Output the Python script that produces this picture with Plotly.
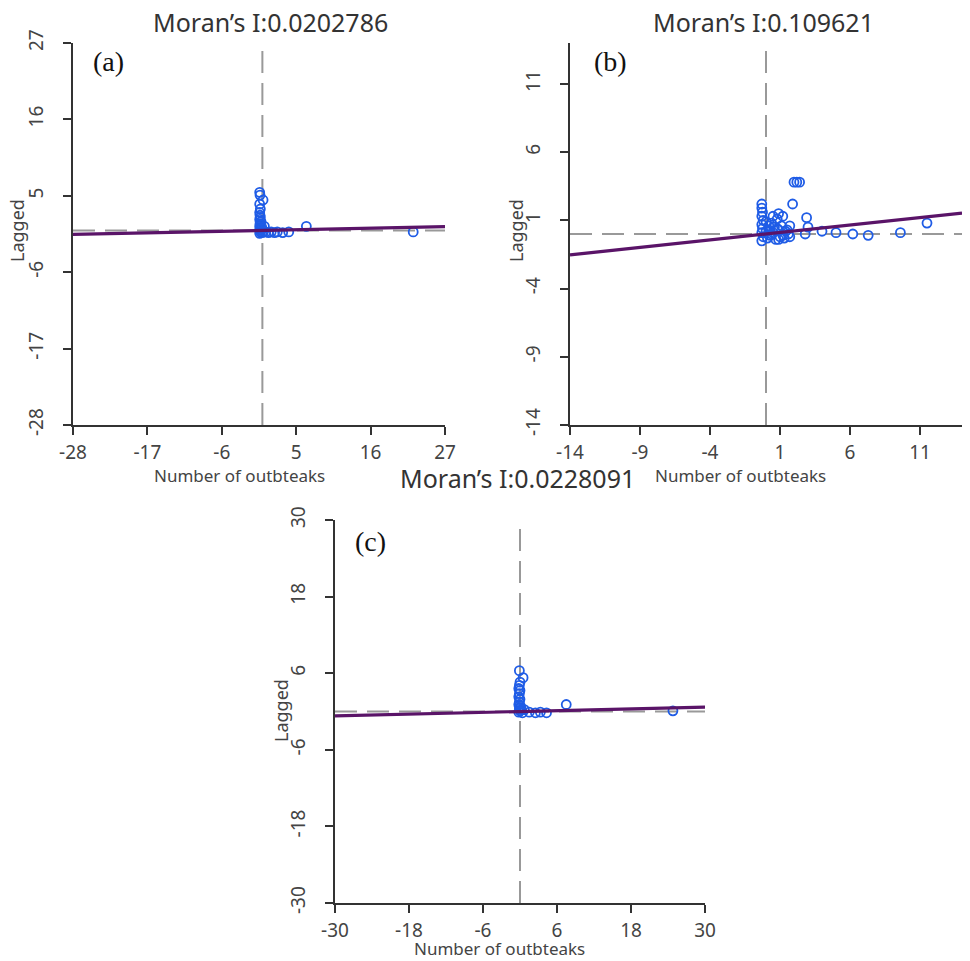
import numpy as np
import plotly.graph_objects as go

W, H = 970, 961

# ---------------- data ----------------
titles = ["Moran’s I:0.0202786", "Moran’s I:0.109621", "Moran’s I:0.0228091"]
panel_labels = ["(a)", "(b)", "(c)"]
moran_i = [0.0202786, 0.109621, 0.0228091]

ticks_a = [-28, -17, -6, 5, 16, 27]
ticks_b = [-14, -9, -4, 1, 6, 11]
ticks_c = [-30, -18, -6, 6, 18, 30]
range_a = [-28, 27]
range_b = [-14, 14]
range_c = [-30, 30]

xa = [-0.4, -0.35, 0.1, -0.4, -0.3, -0.4, -0.35, -0.3, -0.4, -0.2, -0.35, -0.3, -0.4, -0.1,
      -0.3, -0.4, -0.2, -0.3, 0.0, -0.4, 0.3, 0.2, 0.5, 0.9, 1.3, 1.8, 2.2, 3.0, 3.9, 6.5, 22.3]
ya = [5.5, 5.1, 4.4, 3.8, 3.1, 2.6, 2.2, 1.9, 1.6, 1.3, 1.0, 0.8, 0.6, 0.5,
      0.3, 0.1, 0.0, -0.2, -0.3, -0.4, 0.6, -0.1, -0.2, -0.3, -0.2, -0.3, -0.2, -0.3, -0.2, 0.6, -0.2]

xb = [-0.3, -0.3, -0.25, -0.3, -0.2, -0.3, -0.25, -0.3, -0.2, -0.3, 0.0, 0.2, 0.4, 0.6, 0.9,
      1.1, 1.4, 0.1, 0.3, 0.7, 1.0, 1.3, 1.6, 0.2, 0.5, 0.8, 1.2, 0.0, 0.4, 0.9, 1.5, 0.5, 0.9,
      1.2, 0.8, 1.9, 2.0, 2.2, 2.4, 2.9, 3.0, 2.8, 1.7, 1.7, 4.0, 5.0, 6.2, 7.3, 9.6, 11.5]
yb = [2.2, 1.9, 1.6, 1.3, 1.0, 0.7, 0.4, 0.1, -0.2, -0.5, 0.9, 0.6, 0.8, 0.5, 0.3,
      0.6, 0.2, -0.3, -0.1, -0.4, -0.2, -0.3, 0.0, 0.3, 0.1, 0.4, -0.1, 0.2, 0.0, -0.4, 0.3, 1.3, 1.5,
      1.3, 1.1, 2.2, 3.8, 3.8, 3.8, 1.2, 0.5, 0.0, -0.2, 0.6, 0.2, 0.1, 0.0, -0.1, 0.1, 0.8]

xc = [-0.1, 0.5, 0.0, -0.1, -0.2, 0.0, -0.1, -0.2, 0.0, -0.1, -0.2, 0.1, -0.1, 0.2, 0.0,
      -0.2, 0.4, 0.7, 1.5, 2.5, 3.3, 4.3, 7.5, 24.8]
yc = [6.4, 5.3, 4.6, 4.1, 3.6, 3.3, 2.8, 2.3, 1.9, 1.5, 1.1, 0.8, 0.5, 0.3, 0.1,
      -0.1, -0.2, 0.3, -0.1, -0.2, -0.1, -0.2, 1.1, 0.1]

x_title = "Number of outbteaks"
y_title = "Lagged"

# ---------------- layout geometry (pixels) ----------------
panels = [
    dict(x=xa, y=ya, I=moran_i[0], rng=range_a, ticks=ticks_a, box=(73, 445, 43, 425),
         title_pos=(270, 22), lab_pos=(108, 62), xt_pos=(239, 476), yt_pos=(17, 231)),
    dict(x=xb, y=yb, I=moran_i[1], rng=range_b, ticks=ticks_b, box=(570, 962, 43, 425),
         title_pos=(763, 22), lab_pos=(610, 62), xt_pos=(740, 476), yt_pos=(516, 231)),
    dict(x=xc, y=yc, I=moran_i[2], rng=range_c, ticks=ticks_c, box=(335, 705, 520, 903),
         title_pos=(517, 478), lab_pos=(370, 541), xt_pos=(500, 948), yt_pos=(281, 711)),
]

FONT = "Noto Sans"
AXC = "#333333"
PT_COLOR = "#1f5ce6"
LINE_COLOR = "#5a1468"
DASH_COLOR = "#999999"

fig = go.Figure()
annotations = []
shapes = []

for i, p in enumerate(panels):
    n = "" if i == 0 else str(i + 1)
    xref, yref = "x" + n, "y" + n
    l, r, t, b = p["box"]
    ax_common = dict(
        showgrid=False, zeroline=False, showline=True, linecolor=AXC, linewidth=2,
        ticks="outside", ticklen=8, tickwidth=2, tickcolor=AXC,
        tickfont=dict(family=FONT, size=19, color="#444444"),
        range=p["rng"], tickmode="array", tickvals=p["ticks"],
        ticktext=[str(v) for v in p["ticks"]], fixedrange=True, automargin=False,
    )
    fig.layout["xaxis" + n] = dict(ax_common, domain=[l / W, r / W], anchor=yref,
                                   ticklabelstandoff=1)
    fig.layout["yaxis" + n] = dict(ax_common, domain=[1 - b / H, 1 - t / H], anchor=xref,
                                   tickangle=-90, ticklabelstandoff=12)

    # reference dashed lines at 0
    shapes.append(dict(type="line", xref=xref, yref=yref + " domain", x0=0, x1=0, y0=0, y1=1,
                       line=dict(color=DASH_COLOR, width=2, dash="22px,10px"), layer="below"))
    shapes.append(dict(type="line", xref=xref + " domain", yref=yref, x0=0, x1=1, y0=0, y1=0,
                       line=dict(color=DASH_COLOR, width=2, dash="22px,10px"), layer="below"))

    fig.add_trace(go.Scatter(
        x=p["x"], y=p["y"], mode="markers", xaxis=xref, yaxis=yref, showlegend=False,
        marker=dict(symbol="circle-open", size=9, color=PT_COLOR, line=dict(width=1.8, color=PT_COLOR)),
        hoverinfo="skip"))

    lx = np.array(p["rng"], dtype=float)
    fig.add_trace(go.Scatter(
        x=lx, y=p["I"] * lx, mode="lines", xaxis=xref, yaxis=yref, showlegend=False,
        line=dict(color=LINE_COLOR, width=3.2), hoverinfo="skip"))

    tx, ty = p["title_pos"]
    annotations.append(dict(text=titles[i], x=tx / W, y=1 - ty / H, xref="paper", yref="paper",
                            showarrow=False, xanchor="center", yanchor="middle",
                            font=dict(family=FONT, size=25, color="#333333")))
    lx_, ly_ = p["lab_pos"]
    annotations.append(dict(text=panel_labels[i], x=lx_ / W, y=1 - ly_ / H, xref="paper", yref="paper",
                            showarrow=False, xanchor="center", yanchor="middle",
                            font=dict(family="Liberation Serif", size=28, color="#111111")))
    xx, xy = p["xt_pos"]
    annotations.append(dict(text=x_title, x=xx / W, y=1 - xy / H, xref="paper", yref="paper",
                            showarrow=False, xanchor="center", yanchor="middle",
                            font=dict(family=FONT, size=17, color="#444444")))
    yx, yy = p["yt_pos"]
    annotations.append(dict(text=y_title, x=yx / W, y=1 - yy / H, xref="paper", yref="paper",
                            showarrow=False, xanchor="center", yanchor="middle", textangle=-90,
                            font=dict(family=FONT, size=18, color="#444444")))

fig.update_layout(
    width=W, height=H, margin=dict(l=0, r=0, t=0, b=0, autoexpand=False),
    paper_bgcolor="white", plot_bgcolor="white",
    annotations=annotations, shapes=shapes,
)

fig.write_html("out.html", config={"displayModeBar": False, "staticPlot": True},
               post_script="document.body.style.margin='0';document.body.style.overflow='hidden';")
